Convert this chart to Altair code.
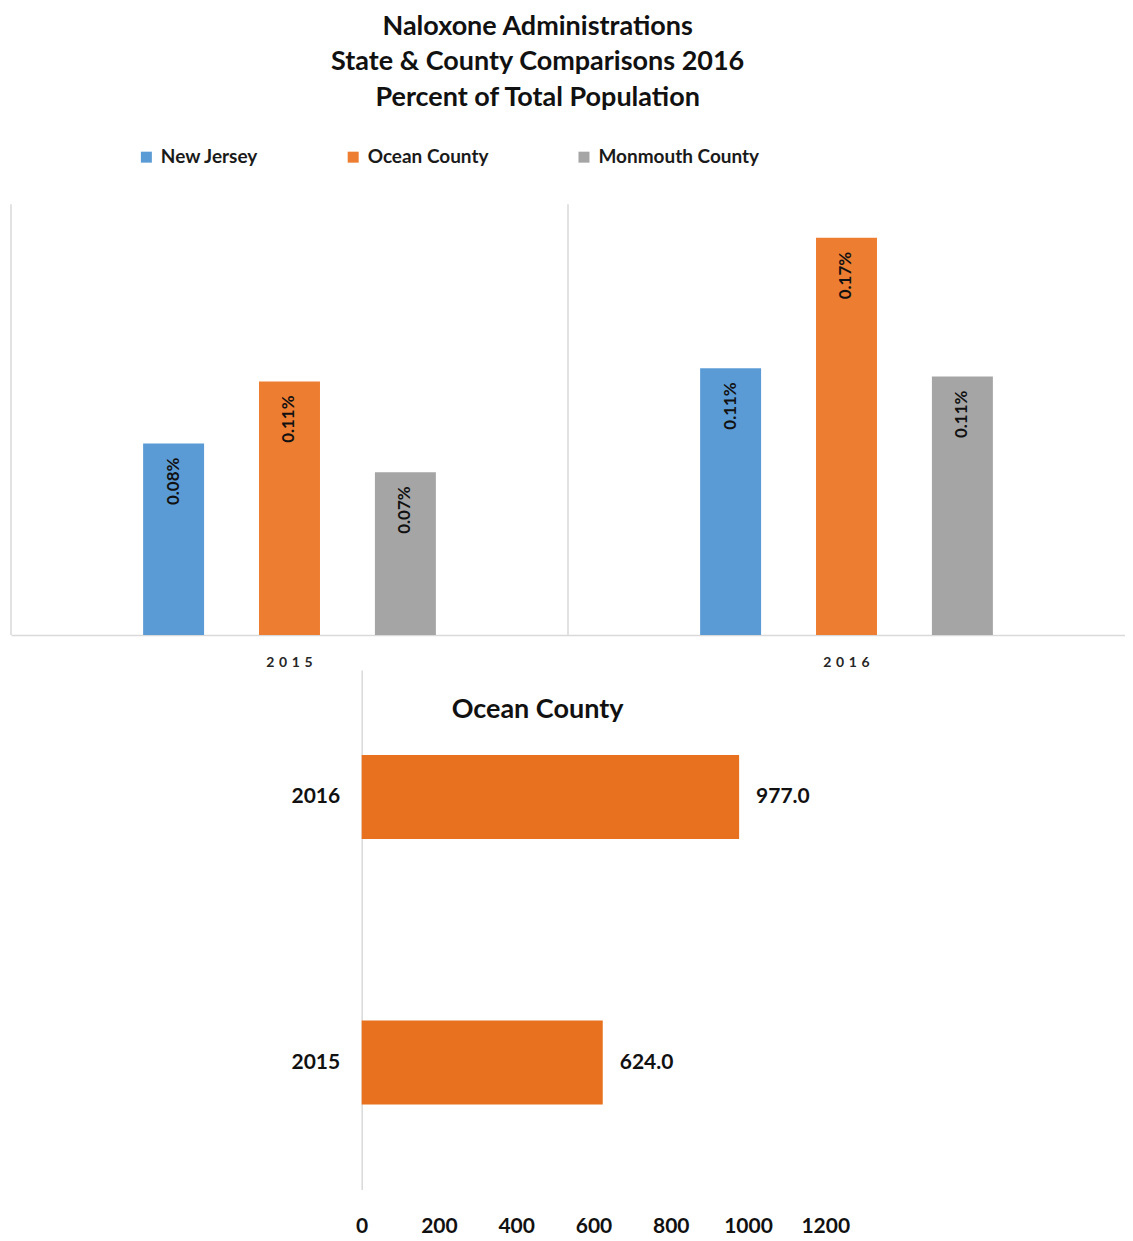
import altair as alt
import pandas as pd

# ---- data ----
years = ["2015", "2016"]
series = ["New Jersey", "Ocean County", "Monmouth County"]
colors = ["#5b9bd5", "#ed7d31", "#a5a5a5"]
pct_2015 = [0.080, 0.106, 0.068]
pct_2016 = [0.1115, 0.166, 0.108]

oc_years = ["2016", "2015"]
oc_counts = [977.0, 624.0]
oc_ticks = [0, 200, 400, 600, 800, 1000, 1200]

title_lines = ["Naloxone Administrations",
               "State & County Comparisons 2016",
               "Percent of Total Population"]

FONT = "Lato"

rows = []
for y, vals in zip(years, [pct_2015, pct_2016]):
    for s, v in zip(series, vals):
        rows.append({"year": y, "series": s, "pct": v})
df = pd.DataFrame(rows)
df_years = pd.DataFrame({"year": years})
df_oc = pd.DataFrame({"year": oc_years, "count": oc_counts})

# empty slots either side of the three bars within each year group
offset_domain = ["_pad_l"] + series + ["_pad_r"]

# ---- top chart ----
base = alt.Chart(df).encode(
    x=alt.X("year:N", sort=years,
            scale=alt.Scale(paddingInner=0, paddingOuter=0),
            axis=alt.Axis(title=None, ticks=False, grid=False, domainColor="#d9d9d9",
                          domainWidth=1.5, labelAngle=0, labelPadding=28,
                          bandPosition=0.5, labelAlign="center",
                          labelFont=FONT, labelFontSize=14, labelFontWeight="bold",
                          labelColor="#262626",
                          labelExpr="join(split(datum.label, ''), '\u2004')")),
    xOffset=alt.XOffset("series:N",
                        scale=alt.Scale(domain=offset_domain, paddingInner=0.474,
                                        paddingOuter=0.14)),
    y=alt.Y("pct:Q", scale=alt.Scale(domain=[0, 0.18], nice=False), axis=None),
)

bars = base.mark_bar().encode(
    color=alt.Color("series:N", sort=series,
                    scale=alt.Scale(domain=series, range=colors),
                    legend=alt.Legend(title=None, orient="none", direction="horizontal",
                                      columns=3, legendX=126, legendY=-57, padding=0,
                                      symbolType="square", symbolSize=121,
                                      symbolStrokeWidth=0, labelOffset=5,
                                      columnPadding=85, labelLimit=0,
                                      labelFont=FONT, labelFontSize=19,
                                      labelFontWeight="bold", labelColor="#1a1a1a"))
)

labels = base.transform_calculate(
    lab="format(datum.pct, '.2f') + '%'"
).mark_text(angle=270, align="right", baseline="middle", dx=-14,
            font=FONT, fontSize=17, fontWeight="bold", color="#111111").encode(
    text="lab:N"
)

seps = alt.Chart(df_years).mark_rule(color="#d9d9d9", strokeWidth=1.5).encode(
    x=alt.X("year:N", sort=years, bandPosition=0)
)

top = alt.layer(seps, bars, labels).properties(width=1115, height=431)

# ---- bottom chart ----
bbase = alt.Chart(df_oc).encode(
    y=alt.Y("year:N", sort=oc_years,
            scale=alt.Scale(paddingInner=0.684, paddingOuter=0.32),
            axis=alt.Axis(title=None, ticks=False, domainColor="#d9d9d9", domainWidth=1.5,
                          labelPadding=22, labelFont=FONT, labelFontSize=21,
                          labelFontWeight="bold", labelColor="#111111")),
    x=alt.X("count:Q", scale=alt.Scale(domain=[0, 1200], nice=False),
            axis=alt.Axis(title=None, values=oc_ticks, format="d", domain=False,
                          ticks=False, grid=False, labelFlush=False, labelPadding=26,
                          labelFont=FONT, labelFontSize=21, labelFontWeight="bold",
                          labelColor="#111111")),
)
bbars = bbase.mark_bar(color="#e8711f")
btext = bbase.mark_text(align="left", baseline="middle", dx=17, font=FONT, fontSize=21,
                        fontWeight="bold", color="#111111").encode(
    text=alt.Text("count:Q", format=".1f")
)
bottom = alt.layer(bbars, btext).properties(
    width=464, height=520,
    title=alt.TitleParams("Ocean County", font=FONT, fontSize=27, fontWeight="bold",
                          color="#111111", anchor="middle", dx=-56, offset=-54)
)

spacer = alt.Chart(pd.DataFrame({"s": [0]})).mark_point(opacity=0).properties(
    width=280, height=1)

chart = alt.vconcat(
    top,
    alt.hconcat(spacer, bottom, spacing=0),
    spacing=-21,
).properties(
    title=alt.TitleParams(title_lines, font=FONT, fontSize=27, fontWeight="bold",
                          color="#111111", lineHeight=36, anchor="middle", dx=-30,
                          dy=-4, offset=31),
    padding={"left": 2, "top": 4, "right": 0, "bottom": 0},
).configure_view(stroke=None)

chart.save("out.html", embed_options={"renderer": "svg", "actions": False})
